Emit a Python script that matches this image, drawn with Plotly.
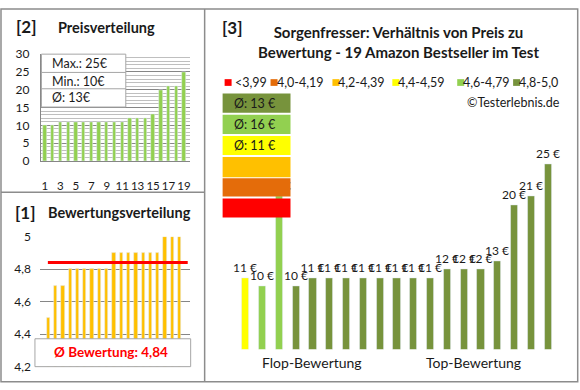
import plotly.graph_objects as go

# ---------------- data ----------------
rank = list(range(1, 20))
prices_sorted = [10, 10, 11, 11, 11, 11, 11, 11, 11, 11, 11, 12, 12, 12, 13, 20, 21, 21, 25]
ratings_sorted = [4.5, 4.7, 4.7, 4.8, 4.8, 4.8, 4.8, 4.8, 4.8,
                  4.9, 4.9, 4.9, 4.9, 4.9, 4.9, 4.9, 5.0, 5.0, 5.0]
main_prices = [11, 10, 21, 10, 11, 11, 11, 11, 11, 11, 11, 11, 12, 12, 12, 13, 20, 21, 25]
main_ratings = ratings_sorted

class_labels = ["<3,99", "4,0-4,19", "4,2-4,39", "4,4-4,59", "4,6-4,79", "4,8-5,0"]
class_colors = ["#FF0000", "#E46C0A", "#FFC000", "#FFFF00", "#92D050", "#77933C"]
class_bounds = [0, 4.0, 4.2, 4.4, 4.6, 4.8]
group_avg_labels = ["Ø: 13 €", "Ø: 16 €", "Ø: 11 €", "", "", ""]   # top to bottom (best class first)

title_main = "Sorgenfresser: Verhältnis von Preis zu<br>Bewertung - 19 Amazon Bestseller im Test"

# ---------------- helpers ----------------
W, H = 580, 390
def px(x): return x / W
def py(y): return 1 - y / H

def rating_color(r):
    c = class_colors[0]
    for b, col in zip(class_bounds, class_colors):
        if r >= b - 1e-9:
            c = col
    return c

FONT = "Lato, 'Open Sans', sans-serif"
TXT = "#1a1a1a"
GRID = "#868686"
BORDER = "#8c8c8c"

fig = go.Figure()

# Panel 2: price distribution
fig.add_trace(go.Bar(x=rank, y=prices_sorted, marker_color="#92D050", width=0.43,
                     xaxis="x", yaxis="y", hoverinfo="skip"))
# Panel 1: rating distribution
fig.add_trace(go.Bar(x=rank, y=ratings_sorted, marker_color="#FFC000", width=0.45,
                     xaxis="x2", yaxis="y2", hoverinfo="skip"))
# Panel 3: main chart
fig.add_trace(go.Bar(x=rank, y=main_prices,
                     marker_color=[rating_color(r) for r in main_ratings],
                     width=0.435, text=[f"{p} €" for p in main_prices],
                     textposition="outside", constraintext="none", cliponaxis=False,
                     textfont=dict(family=FONT, size=12, color=TXT),
                     xaxis="x3", yaxis="y3", hoverinfo="skip"))

avg_rating = sum(ratings_sorted) / len(ratings_sorted)
avg_price = sum(prices_sorted) / len(prices_sorted)

tickfont = dict(family=FONT, size=12, color=TXT)

fig.update_layout(
    width=W, height=H, autosize=False,
    margin=dict(l=0, r=0, t=0, b=0),
    paper_bgcolor="white", plot_bgcolor="rgba(0,0,0,0)",
    showlegend=False, bargap=0,
    xaxis=dict(domain=[px(41), px(190)], range=[0.48, 19.74], anchor="y",
               tickvals=rank[::2], ticks="", ticklabelstandoff=14, tickangle=0,
               tickfont=dict(family=FONT, size=11.5, color=TXT),
               showgrid=False, showline=True, linecolor=GRID, linewidth=1, zeroline=False, fixedrange=True),
    yaxis=dict(domain=[py(159), py(48)], range=[0, 30], anchor="x", dtick=5,
               ticks="", ticklabelstandoff=8, tickfont=tickfont,
               showgrid=True, gridcolor=GRID, gridwidth=1,
               minor=dict(dtick=1, showgrid=True, gridcolor="#bfbfbf", gridwidth=1),
               showline=True, linecolor=GRID, linewidth=1, zeroline=False, fixedrange=True),
    xaxis2=dict(domain=[px(40), px(190)], range=[-0.13, 20.37], anchor="y2",
                showticklabels=False, ticks="", showgrid=False, zeroline=False, fixedrange=True),
    yaxis2=dict(domain=[py(373), py(238)], range=[4.2, 5.0], anchor="x2",
                tickvals=[4.2, 4.4, 4.6, 4.8, 5.0], ticktext=["4,2", "4,4", "4,6", "4,8", "5"],
                ticks="", ticklabelstandoff=8, tickfont=tickfont,
                showgrid=True, gridcolor=GRID, gridwidth=1, zeroline=False, fixedrange=True),
    xaxis3=dict(domain=[px(229.2), px(565.8)], range=[0, 20], anchor="y3",
                visible=False, fixedrange=True),
    yaxis3=dict(domain=[py(355), py(100)], range=[2.19, 32.37], anchor="x3",
                visible=False, fixedrange=True),
)

shapes = []
# borders
shapes.append(dict(type="rect", xref="paper", yref="paper", x0=px(1), x1=px(578.7), y0=py(388.7), y1=py(1),
                   line=dict(color=BORDER, width=1.5), fillcolor="rgba(0,0,0,0)"))
shapes.append(dict(type="line", xref="paper", yref="paper", x0=px(205), x1=px(205), y0=py(388.7), y1=py(1),
                   line=dict(color=BORDER, width=1.5)))
shapes.append(dict(type="line", xref="paper", yref="paper", x0=px(1), x1=px(205), y0=py(191.5), y1=py(191.5),
                   line=dict(color=BORDER, width=1.5)))

# price stat box
shapes.append(dict(type="rect", xref="paper", yref="paper", x0=px(41.5), x1=px(126), y0=py(103), y1=py(48),
                   line=dict(color="#a6a6a6", width=1), fillcolor="white", layer="above"))
for yy in (67, 84):
    shapes.append(dict(type="line", xref="paper", yref="paper", x0=px(41.5), x1=px(126), y0=py(yy), y1=py(yy),
                       line=dict(color="#a6a6a6", width=1)))

# rating average line
shapes.append(dict(type="line", xref="x2 domain", yref="y2", x0=0.053, x1=0.987, y0=avg_rating, y1=avg_rating,
                   line=dict(color="#FF0000", width=3)))
# rating stat box
shapes.append(dict(type="rect", xref="paper", yref="paper", x0=px(35), x1=px(191), y0=py(373), y1=py(344),
                   line=dict(color="#a6a6a6", width=1), fillcolor="white", layer="above"))

# class boxes (top to bottom: best class first)
box_rows = [(89, 109), (111, 131), (133, 153), (155, 176), (177, 196), (198, 218)]
for (y0, y1), col in zip(box_rows, class_colors[::-1]):
    shapes.append(dict(type="rect", xref="paper", yref="paper", x0=px(223), x1=px(291), y0=py(y1), y1=py(y0),
                       line=dict(width=0), fillcolor=col, layer="above"))

# legend squares
leg_sq_x = [225, 271, 333, 393, 458, 514]
for x0, col in zip(leg_sq_x, class_colors):
    shapes.append(dict(type="rect", xref="paper", yref="paper", x0=px(x0), x1=px(x0 + 7), y0=py(81), y1=py(74),
                       line=dict(width=0), fillcolor=col, layer="above"))

annotations = []
def text(x, y, s, size=11, bold=False, color=TXT, xanchor="left"):
    annotations.append(dict(x=px(x), y=py(y), xref="paper", yref="paper", text=f"<b>{s}</b>" if bold else s,
                            showarrow=False, xanchor=xanchor, yanchor="middle",
                            font=dict(family=FONT, size=size, color=color)))

text(14, 19, "[2]", 17, True)
text(56, 20, "Preisverteilung", 14.5, True)
text(13, 213, "[1]", 17, True)
text(46, 213, "Bewertungsverteilung", 14.5, True)
text(220, 20, "[3]", 17, True)
annotations.append(dict(x=px(399), y=py(35), xref="paper", yref="paper", text=f"<b>{title_main}</b>",
                        showarrow=False, xanchor="center", yanchor="middle",
                        font=dict(family=FONT, size=15, color=TXT)))

text(50, 58, f"Max.: {max(prices_sorted)}€", 12.5)
text(50, 76, f"Min.: {min(prices_sorted)}€", 12.5)
text(50, 93, f"Ø: {round(avg_price)}€", 12.5)

text(111, 358, f"Ø Bewertung: {avg_rating:.2f}".replace(".", ","), 13.5, True, "#FF0000", "center")

leg_txt_x = [233, 275, 337, 397, 462, 518]
for x0, lab in zip(leg_txt_x, class_labels):
    text(x0, 77.5, lab, 12.5)
text(563, 98, "©Testerlebnis.de", 12.5, xanchor="right")

for (y0, y1), lab in zip(box_rows, group_avg_labels):
    if lab:
        text(232, (y0 + y1) / 2, lab, 12.5)

text(313, 369, "Flop-Bewertung", 14, xanchor="center")
text(474, 369, "Top-Bewertung", 14, xanchor="center")

fig.update_layout(shapes=shapes, annotations=annotations)
fig.write_html("out.html", config={"displayModeBar": False},
               post_script="document.body.style.margin='0';")
